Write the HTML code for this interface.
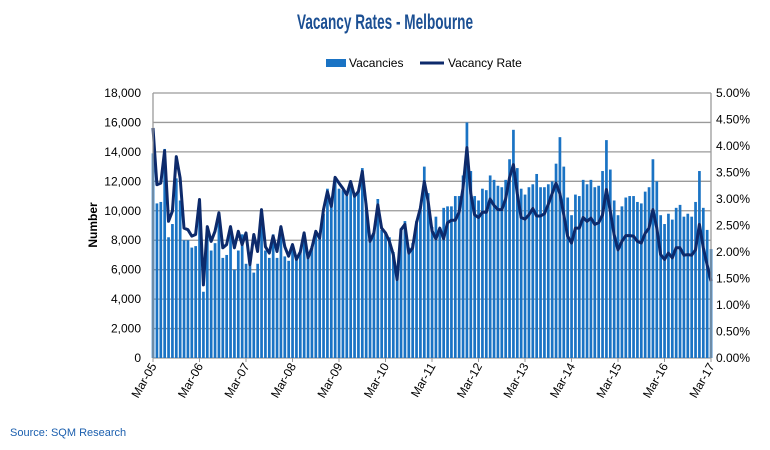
<!DOCTYPE html>
<html><head><meta charset="utf-8"><style>
body{margin:0;background:#fff;width:770px;height:445px;overflow:hidden;font-family:"Liberation Sans",sans-serif}
</style></head><body>
<svg id="chart" width="770" height="445" xmlns="http://www.w3.org/2000/svg" font-family="Liberation Sans, sans-serif">
<text x="385" y="29" text-anchor="middle" font-size="21" font-weight="bold" fill="#1b4f93" textLength="176" lengthAdjust="spacingAndGlyphs">Vacancy Rates - Melbourne</text>
<g>
<rect x="326" y="59" width="20" height="8" fill="#1a73c4"/>
<text x="349" y="67" font-size="12" fill="#000">Vacancies</text>
<line x1="420" y1="63" x2="444" y2="63" stroke="#0d2a6b" stroke-width="3"/>
<text x="448" y="67" font-size="12" fill="#000">Vacancy Rate</text>
</g>
<g id="grid"></g><g id="bars"></g><g id="line"></g><g id="axes"></g>
<text transform="translate(97,225) rotate(-90)" text-anchor="middle" font-size="12" font-weight="bold">Number</text>
<text x="10" y="436" font-size="11" fill="#1b5fae">Source: SQM Research</text>
</svg>
<script>
const leftTicks=[0,2000,4000,6000,8000,10000,12000,14000,16000,18000];
const rightTicks=["0.00%","0.50%","1.00%","1.50%","2.00%","2.50%","3.00%","3.50%","4.00%","4.50%","5.00%"];
const xLabels=["Mar-05","Mar-06","Mar-07","Mar-08","Mar-09","Mar-10","Mar-11","Mar-12","Mar-13","Mar-14","Mar-15","Mar-16","Mar-17"];
const vacancies=[13.9,10.5,10.6,14.2,8.2,9.1,12.2,10.7,8.0,8.0,7.5,7.6,10.6,4.5,8.5,7.3,7.8,9.5,6.8,7.0,8.5,6.0,7.3,8.4,6.4,6.3,5.8,6.4,9.8,7.3,6.8,8.4,6.8,8.8,6.9,6.6,7.5,
6.8,7.2,8.0,7.0,7.6,8.5,8.2,9.8,11.5,10.5,12.3,11.5,11.4,11.0,12.0,11.0,11.3,12.9,10.5,8.0,8.5,10.8,8.7,8.5,8.2,7.2,5.5,8.8,9.3,7.5,7.8,9.3,10.3,13.0,11.2,
8.9,9.6,8.5,10.2,10.3,10.3,11.0,11.0,12.4,16.0,12.7,11.0,10.7,11.5,11.4,12.4,12.1,11.7,11.6,12.1,13.5,15.5,12.9,11.5,11.1,11.6,11.8,12.5,11.6,11.6,11.8,12.0,13.2,15.0,13.0,10.9,
9.7,11.1,11.0,12.1,11.8,12.1,11.6,11.7,12.7,14.8,12.8,10.7,9.7,10.3,10.9,11.0,11.0,10.6,10.5,11.3,11.6,13.5,12.0,9.7,9.1,9.8,9.4,10.2,10.4,9.6,9.8,9.6,10.6,12.7,10.2,8.7,7.4];
const rates=[4.34,3.27,3.3,3.91,2.58,2.77,3.8,3.4,2.45,2.42,2.3,2.33,2.99,1.38,2.48,2.2,2.39,2.74,2.08,2.14,2.48,2.08,2.39,2.14,2.36,1.76,2.33,2.01,2.8,2.1,1.98,2.3,2.01,2.48,2.1,1.92,2.14,
1.86,2.0,2.36,1.89,2.08,2.39,2.26,2.8,3.14,2.86,3.41,3.3,3.2,3.08,3.33,3.05,3.14,3.52,2.89,2.2,2.36,2.89,2.45,2.36,2.2,1.95,1.48,2.42,2.52,1.98,2.08,2.55,2.83,3.33,2.96,
2.4,2.25,2.45,2.25,2.55,2.6,2.6,2.75,3.2,3.97,3.1,2.7,2.65,2.75,2.75,3.0,2.88,2.8,2.8,3.0,3.4,3.65,3.1,2.65,2.62,2.7,2.82,2.68,2.68,2.72,2.9,3.1,3.3,3.1,2.7,2.3,
2.17,2.45,2.45,2.65,2.58,2.64,2.52,2.55,2.7,3.18,2.77,2.33,2.04,2.2,2.31,2.31,2.3,2.2,2.17,2.35,2.45,2.8,2.45,1.95,1.86,1.98,1.89,2.08,2.08,1.94,1.95,1.94,2.04,2.52,2.08,1.76,1.45];
const NS="http://www.w3.org/2000/svg";
const X0=153,X1=711,Y0=358,Y1=93;
const step=(X1-X0)/(vacancies.length-1);
const xPos=i=>X0+i*step;
const yL=v=>Y0-(v/18000)*(Y0-Y1);
const yR=p=>Y0-(p/5)*(Y0-Y1);
function mk(tag,attrs,parent){const e=document.createElementNS(NS,tag);for(const k in attrs)e.setAttribute(k,attrs[k]);parent.appendChild(e);return e;}
const grid=document.getElementById('grid'),bars=document.getElementById('bars'),line=document.getElementById('line'),axes=document.getElementById('axes');
leftTicks.forEach(v=>{
  const g=mk('line',{x1:X0,x2:X1,y1:yL(v),y2:yL(v),stroke:'#9a9a9a','stroke-width':1.3},grid);
  
  
  const t=mk('text',{x:141,y:yL(v)+4,'text-anchor':'end','font-size':12},axes);
  t.textContent=v.toLocaleString('en-US');
  
  
});
rightTicks.forEach((s,i)=>{
  const t=mk('text',{x:716,y:yR(i*0.5)+4,'font-size':12},axes);
  t.textContent=s;
  
  
});
vacancies.forEach((v,i)=>{
  const b=mk('rect',{x:xPos(i)-1.3,y:yL(v*1000),width:2.7,height:Y0-yL(v*1000),fill:'#1a73c4'},bars);
  
  
});
const pts=rates.map((r,i)=>xPos(i).toFixed(1)+','+yR(r).toFixed(1)).join(' ');
const pl=mk('polyline',{points:pts,fill:'none',stroke:'#0d2a6b','stroke-width':3,'stroke-linejoin':'round'},line);


const la=mk('line',{x1:X0,x2:X0,y1:Y1,y2:Y0,stroke:'#9a9a9a','stroke-width':1.3},axes);


const ra=mk('line',{x1:X1,x2:X1,y1:Y1,y2:Y0,stroke:'#9a9a9a','stroke-width':1.3},axes);


xLabels.forEach((s,i)=>{
  const x=xPos(i*12);
  const tk=mk('line',{x1:x,x2:x,y1:Y0,y2:Y0+4,stroke:'#9a9a9a'},axes);
  
  
  const t=mk('text',{transform:`translate(${x+4},${Y0+8}) rotate(-60)`,'text-anchor':'end','font-size':12},axes);
  t.textContent=s;
  
  
});
</script>
</body></html>
